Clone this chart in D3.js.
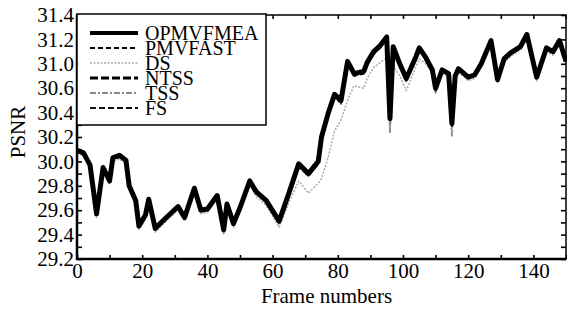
<!DOCTYPE html>
<html>
<head>
<meta charset="utf-8">
<script src="https://cdn.jsdelivr.net/npm/d3@7"></script>
<style>
  body { margin: 0; background: #fff; }
  text { font-family: "Liberation Serif", "Times New Roman", serif; fill: #000; }
</style>
</head>
<body>
<script>
const width = 567;
const height = 314;

const frames = [
    0, 2, 4, 6, 8, 10, 11, 13, 15, 16,
    18, 19, 21, 22, 24, 27, 31, 33, 36, 38,
    40, 43, 45, 46, 48, 50, 53, 55, 58, 62,
    65, 68, 71, 74, 75, 77, 79, 81, 83, 85,
    88, 89, 91, 93, 95, 96, 97, 99, 101, 104,
    105, 107, 109, 110, 112, 114, 115, 116, 117, 120,
    122, 124, 127, 129, 131, 133, 136, 138, 141, 144,
    146, 148, 150];

const opmvfmea = [
    30.09, 30.07, 29.97, 29.57, 29.95, 29.84, 30.03, 30.05, 30.01, 29.80,
    29.68, 29.47, 29.56, 29.69, 29.45, 29.53, 29.63, 29.54, 29.78, 29.60,
    29.61, 29.72, 29.44, 29.65, 29.49, 29.62, 29.84, 29.75, 29.68, 29.51,
    29.74, 29.98, 29.90, 30.00, 30.20, 30.39, 30.55, 30.50, 30.82, 30.72,
    30.74, 30.81, 30.90, 30.95, 31.02, 30.35, 30.94, 30.80, 30.68, 30.86,
    30.93, 30.85, 30.75, 30.60, 30.75, 30.72, 30.31, 30.70, 30.76, 30.69,
    30.71, 30.80, 30.99, 30.67, 30.84, 30.89, 30.94, 31.04, 30.69, 30.93,
    30.90, 30.99, 30.82];

const pmvfast = [
    30.08, 30.07, 29.96, 29.56, 29.94, 29.83, 30.02, 30.05, 30.00, 29.79,
    29.67, 29.46, 29.55, 29.68, 29.44, 29.52, 29.62, 29.53, 29.77, 29.59,
    29.60, 29.71, 29.43, 29.64, 29.48, 29.61, 29.83, 29.74, 29.67, 29.50,
    29.72, 29.96, 29.88, 29.98, 30.18, 30.37, 30.53, 30.48, 30.80, 30.70,
    30.72, 30.79, 30.88, 30.93, 31.00, 30.33, 30.92, 30.78, 30.66, 30.85,
    30.92, 30.84, 30.74, 30.58, 30.74, 30.71, 30.29, 30.69, 30.75, 30.68,
    30.70, 30.79, 30.98, 30.66, 30.83, 30.88, 30.93, 31.03, 30.68, 30.92,
    30.89, 30.98, 30.81];

const ds = [
    30.07, 30.05, 29.94, 29.54, 29.92, 29.81, 30.00, 30.02, 29.98, 29.77,
    29.65, 29.44, 29.53, 29.66, 29.42, 29.50, 29.60, 29.51, 29.75, 29.57,
    29.58, 29.69, 29.41, 29.62, 29.46, 29.59, 29.81, 29.71, 29.64, 29.46,
    29.66, 29.84, 29.74, 29.82, 29.86, 30.03, 30.25, 30.34, 30.50, 30.62,
    30.60, 30.68, 30.77, 30.81, 30.85, 30.25, 30.78, 30.70, 30.58, 30.78,
    30.84, 30.80, 30.72, 30.55, 30.72, 30.69, 30.27, 30.67, 30.73, 30.66,
    30.68, 30.77, 30.96, 30.64, 30.81, 30.86, 30.91, 31.01, 30.66, 30.90,
    30.87, 30.96, 30.79];

const ntss = [
    30.09, 30.06, 29.97, 29.58, 29.95, 29.84, 30.03, 30.04, 30.01, 29.80,
    29.68, 29.48, 29.56, 29.69, 29.46, 29.53, 29.63, 29.54, 29.78, 29.61,
    29.61, 29.72, 29.45, 29.65, 29.50, 29.62, 29.84, 29.75, 29.68, 29.52,
    29.74, 29.97, 29.90, 30.00, 30.20, 30.38, 30.54, 30.49, 30.81, 30.72,
    30.73, 30.80, 30.90, 30.95, 31.01, 30.36, 30.93, 30.80, 30.68, 30.86,
    30.93, 30.85, 30.75, 30.60, 30.75, 30.72, 30.32, 30.70, 30.76, 30.69,
    30.71, 30.80, 30.99, 30.67, 30.84, 30.89, 30.94, 31.04, 30.69, 30.93,
    30.90, 30.99, 30.82];

const tss = [
    30.08, 30.06, 29.96, 29.55, 29.94, 29.83, 30.02, 30.04, 30.00, 29.79,
    29.67, 29.46, 29.55, 29.68, 29.44, 29.52, 29.62, 29.53, 29.77, 29.59,
    29.60, 29.71, 29.41, 29.64, 29.48, 29.61, 29.83, 29.74, 29.67, 29.49,
    29.72, 29.95, 29.88, 29.98, 30.17, 30.36, 30.52, 30.47, 30.79, 30.70,
    30.72, 30.79, 30.88, 30.93, 31.00, 30.24, 30.92, 30.78, 30.66, 30.85,
    30.91, 30.84, 30.73, 30.57, 30.74, 30.71, 30.21, 30.69, 30.75, 30.68,
    30.70, 30.79, 30.97, 30.66, 30.83, 30.88, 30.93, 31.02, 30.68, 30.92,
    30.89, 30.98, 30.81];

const fs = [
    30.09, 30.07, 29.97, 29.57, 29.95, 29.84, 30.03, 30.05, 30.01, 29.80,
    29.68, 29.47, 29.56, 29.69, 29.45, 29.53, 29.63, 29.54, 29.78, 29.60,
    29.61, 29.72, 29.44, 29.65, 29.49, 29.62, 29.84, 29.75, 29.68, 29.51,
    29.74, 29.98, 29.90, 30.00, 30.20, 30.39, 30.55, 30.50, 30.82, 30.72,
    30.74, 30.81, 30.90, 30.95, 31.02, 30.35, 30.94, 30.80, 30.68, 30.86,
    30.93, 30.85, 30.75, 30.60, 30.75, 30.72, 30.31, 30.70, 30.76, 30.69,
    30.71, 30.80, 30.99, 30.67, 30.84, 30.89, 30.94, 31.04, 30.69, 30.93,
    30.90, 30.99, 30.82];

// y tick labels exactly as printed (the original skips 30.8)
const yTickValues = [29.2, 29.4, 29.6, 29.8, 30.0, 30.2, 30.4, 30.6, 30.8, 31.0, 31.2];
const yTickLabels = ["29.2", "29.4", "29.6", "29.8", "30.0", "30.2", "30.4", "30.6", "31.0", "31.2", "31.4"];
const xTickValues = [0, 20, 40, 60, 80, 100, 120, 140];

const seriesNames = ["OPMVFMEA", "PMVFAST", "DS", "NTSS", "TSS", "FS"];
const seriesValues = [opmvfmea, pmvfast, ds, ntss, tss, fs];
const seriesStyle = [
    { color: "#000", width: 5, dash: null },
    { color: "#000", width: 1.8, dash: "5,3" },
    { color: "#aaa", width: 1.5, dash: "2,1.5" },
    { color: "#000", width: 3, dash: "8,3" },
    { color: "#888", width: 1.8, dash: "6,2,2,2" },
    { color: "#111", width: 1.8, dash: "6,3" }
];

const plotLeft = 77, plotRight = 566, plotTop = 15, plotBottom = 259;

const x = d3.scaleLinear().domain([0, 150]).range([plotLeft, plotRight]);
const y = d3.scaleLinear().domain([29.2, 31.2]).range([plotBottom, plotTop]);

const svg = d3.select("body").append("svg")
    .attr("width", width).attr("height", height);

// curves: everything else first, the thick OPMVFMEA line last
const line = d3.line().x(d => x(d[0])).y(d => y(d[1]));
const drawOrder = [2, 4, 1, 3, 5, 0];
drawOrder.forEach(i => {
    const pts = frames.map((f, j) => [f, seriesValues[i][j]]);
    const st = seriesStyle[i];
    svg.append("path").datum(pts)
        .attr("d", line)
        .attr("fill", "none")
        .attr("stroke", st.color)
        .attr("stroke-width", st.width)
        .attr("stroke-dasharray", st.dash)
        .attr("stroke-linejoin", "round");
});

// ticks (inward), minor every half step
const xMinor = d3.range(0, 151, 10);
const yMinor = d3.range(29.2, 31.21, 0.1);

svg.append("g").attr("transform", "translate(0," + plotBottom + ")")
    .call(d3.axisBottom(x).tickValues(xMinor).tickSize(-4).tickFormat(""))
    .call(g => g.select(".domain").remove());
svg.append("g").attr("transform", "translate(0," + plotTop + ")")
    .call(d3.axisTop(x).tickValues(xMinor).tickSize(-4).tickFormat(""))
    .call(g => g.select(".domain").remove());
svg.append("g").attr("transform", "translate(" + plotLeft + ",0)")
    .call(d3.axisLeft(y).tickValues(yMinor).tickSize(-5).tickFormat(""))
    .call(g => g.select(".domain").remove());
svg.append("g").attr("transform", "translate(" + plotRight + ",0)")
    .call(d3.axisRight(y).tickValues(yMinor).tickSize(-5).tickFormat(""))
    .call(g => g.select(".domain").remove());
svg.selectAll(".tick line").attr("stroke", "#000").attr("stroke-width", 1.6);

// tick labels
const xAxis = svg.append("g").attr("transform", "translate(0," + plotBottom + ")")
    .call(d3.axisBottom(x).tickValues(xTickValues).tickSize(0).tickPadding(4));
xAxis.select(".domain").remove();
xAxis.selectAll("text").attr("font-size", 21).attr("dy", "0.72em")
    .style("font-family", "Liberation Serif");

const yAxis = svg.append("g").attr("transform", "translate(" + plotLeft + ",0)")
    .call(d3.axisLeft(y).tickValues(yTickValues).tickSize(0).tickPadding(3)
        .tickFormat((d, i) => yTickLabels[i]));
yAxis.select(".domain").remove();
yAxis.selectAll("text").attr("font-size", 21)
    .style("font-family", "Liberation Serif");

// plot frame
svg.append("rect").attr("x", plotLeft).attr("y", plotTop)
    .attr("width", plotRight - plotLeft).attr("height", plotBottom - plotTop)
    .attr("fill", "none").attr("stroke", "#000").attr("stroke-width", 1.5);
svg.append("line").attr("x1", plotLeft).attr("x2", plotLeft).attr("y1", plotTop).attr("y2", plotBottom + 1)
    .attr("stroke", "#000").attr("stroke-width", 2.5);
svg.append("line").attr("x1", plotLeft).attr("x2", plotRight).attr("y1", plotBottom).attr("y2", plotBottom)
    .attr("stroke", "#000").attr("stroke-width", 2.5);

// axis titles
svg.append("text").attr("x", (plotLeft + plotRight) / 2 + 5).attr("y", 303)
    .attr("text-anchor", "middle").attr("font-size", 21).text("Frame numbers");
svg.append("text").attr("transform", "translate(25,132) rotate(-90)")
    .attr("text-anchor", "middle").attr("font-size", 21).text("PSNR");

// legend (rows are packed tightly, as in the original figure)
const legend = svg.append("g");
legend.append("rect").attr("x", 77).attr("y", 14).attr("width", 189).attr("height", 111)
    .attr("fill", "#fff").attr("stroke", "#000").attr("stroke-width", 1.5);
const rowY = [33, 48, 63, 78, 93, 108];
seriesNames.forEach((name, i) => {
    const st = seriesStyle[i];
    legend.append("line").attr("x1", 90).attr("x2", 138)
        .attr("y1", rowY[i]).attr("y2", rowY[i])
        .attr("stroke", st.color).attr("stroke-width", Math.min(st.width, 4))
        .attr("stroke-dasharray", st.dash);
    legend.append("text").attr("x", 145).attr("y", rowY[i] + 7)
        .attr("font-size", 20).text(name);
});
</script>
</body>
</html>
